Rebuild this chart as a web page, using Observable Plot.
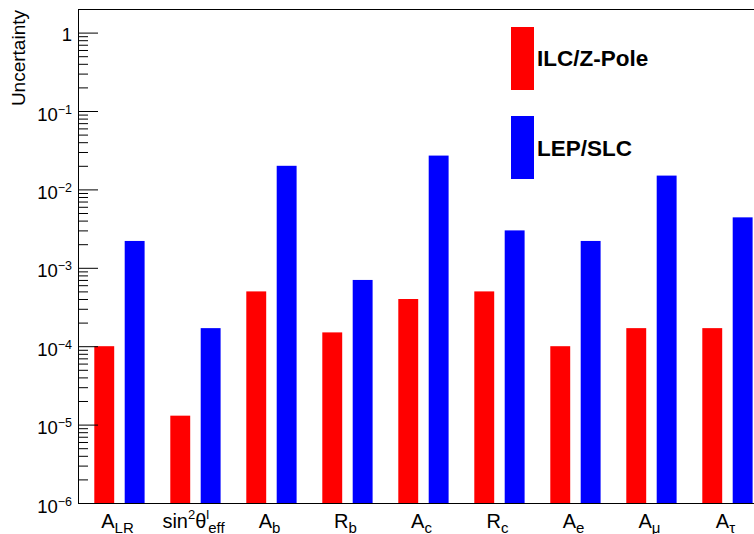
<!DOCTYPE html>
<html>
<head>
<meta charset="utf-8">
<script src="https://cdn.jsdelivr.net/npm/d3@7"></script>
<script src="https://cdn.jsdelivr.net/npm/@observablehq/plot@0.6"></script>
<style>
html, body { margin: 0; padding: 0; overflow: hidden; background: #fff; }
#wrap { position: relative; width: 754px; height: 534px; overflow: hidden; }
#overlay { position: absolute; left: 0; top: 0; pointer-events: none; }
</style>
</head>
<body>
<div id="wrap"></div>
<script>
// ---- data ----
const categories = ["A_LR", "sin2_theta_eff", "A_b", "R_b", "A_c", "R_c", "A_e", "A_mu", "A_tau"];
// tick label pieces: [text, "sup"|"sub"|undefined, dx]
const labelParts = [
  [["A"], ["LR", "sub"]],
  [["sin"], ["2", "sup"], ["θ"], ["l", "sup"], ["eff", "sub", -1]],
  [["A"], ["b", "sub"]],
  [["R"], ["b", "sub"]],
  [["A"], ["c", "sub"]],
  [["R"], ["c", "sub"]],
  [["A"], ["e", "sub"]],
  [["A"], ["μ", "sub"]],
  [["A"], ["τ", "sub"]]
];
const seriesNames = ["ILC/Z-Pole", "LEP/SLC"];
const seriesColors = ["#ff0000", "#0000ff"];
const ilcValues = [1.0e-4, 1.3e-5, 5.0e-4, 1.5e-4, 4.0e-4, 5.0e-4, 1.0e-4, 1.7e-4, 1.7e-4];
const lepValues = [2.2e-3, 1.7e-4, 2.0e-2, 7.0e-4, 2.7e-2, 3.0e-3, 2.2e-3, 1.5e-2, 4.4e-3];
const yMajorTicks = [1e-6, 1e-5, 1e-4, 1e-3, 1e-2, 1e-1, 1];
const yDomain = [1e-6, 2];
const yTitle = "Uncertainty";

// minor log ticks (2..9 x 10^k)
const yMinorTicks = [];
for (let k = -6; k <= 0; k++) for (let m = 2; m <= 9; m++) {
  const v = m * Math.pow(10, k);
  if (v <= yDomain[1] * 1.0001) yMinorTicks.push(v);
}

const ilcData = categories.map((c, i) => ({category: c, value: ilcValues[i]}));
const lepData = categories.map((c, i) => ({category: c, value: lepValues[i]}));

const FONT = "'Liberation Sans', Arial, Helvetica, sans-serif";

const chart = Plot.plot({
  width: 783,
  height: 534,
  marginLeft: 78,
  marginRight: 20,
  marginTop: 9,
  marginBottom: 31,
  style: {fontFamily: FONT, background: "white", color: "black"},
  x: {type: "band", domain: categories, padding: 0, label: null},
  y: {type: "log", domain: yDomain, label: null},
  marks: [
    Plot.barY(ilcData, {x: "category", y1: yDomain[0], y2: "value", fill: seriesColors[0], insetLeft: 15.3, insetRight: 40.8}),
    Plot.barY(lepData, {x: "category", y1: yDomain[0], y2: "value", fill: seriesColors[1], insetLeft: 45.7, insetRight: 10.4}),
    Plot.frame({stroke: "black"}),
    Plot.axisY({ticks: yMinorTicks, tickSize: 10, dx: 10, fill: "none", stroke: "black", label: null}),
    Plot.axisY({ticks: yMajorTicks, tickSize: 20, dx: 20, fill: "none", stroke: "black", label: null}),
    Plot.axisY({ticks: yMajorTicks, tickSize: 0, tickPadding: 6.5, fontSize: 18.5, fill: "black",
      tickFormat: d => String(Math.round(Math.log10(d))), label: null}),
    Plot.axisX({tickSize: 0, tickPadding: 0, fontSize: 20, fill: "black", tickFormat: d => d, label: null})
  ]
});
chart.style.maxWidth = "none";

const NS = "http://www.w3.org/2000/svg";
function fillParts(el, parts, opt) {
  el.textContent = "";
  let shift = 0;
  for (const [txt, kind, dx] of parts) {
    const ts = document.createElementNS(NS, "tspan");
    const target = kind === "sup" ? opt.supShift : kind === "sub" ? opt.subShift : 0;
    ts.setAttribute("dy", target - shift);
    shift = target;
    if (dx) ts.setAttribute("dx", dx);
    if (kind === "sup") ts.setAttribute("font-size", opt.supSize);
    if (kind === "sub") ts.setAttribute("font-size", opt.subSize);
    ts.textContent = txt;
    el.appendChild(ts);
  }
}

// y tick labels with superscripts
chart.querySelectorAll('g[aria-label="y-axis tick label"] text').forEach(t => {
  const e = parseInt(t.textContent, 10);
  if (e === 0) {
    t.setAttribute("y", 7.5);
    fillParts(t, [["1"]], {});
  } else {
    t.setAttribute("y", 9);
    fillParts(t, [["10"], ["−" + Math.abs(e), "sup"]], {supShift: -7, supSize: 12.5});
  }
});
// x tick labels with sub/superscripts
chart.querySelectorAll('g[aria-label="x-axis tick label"] text').forEach(t => {
  const i = categories.indexOf(t.textContent);
  if (i < 0) return;
  t.setAttribute("y", 24);
  fillParts(t, labelParts[i], {supShift: -8.5, supSize: 13, subShift: 5, subSize: 15});
});

const wrap = document.getElementById("wrap");
wrap.appendChild(chart);

// overlay: axis title + legend
const ov = document.createElementNS(NS, "svg");
ov.setAttribute("id", "overlay");
ov.setAttribute("width", 754);
ov.setAttribute("height", 534);
ov.setAttribute("font-family", FONT);
const title = document.createElementNS(NS, "text");
title.setAttribute("transform", "translate(25,10) rotate(-90)");
title.setAttribute("text-anchor", "end");
title.setAttribute("font-size", 19);
title.textContent = yTitle;
ov.appendChild(title);
const legendY = [27, 116];
const textY = [66, 156];
seriesNames.forEach((name, i) => {
  const r = document.createElementNS(NS, "rect");
  r.setAttribute("x", 511); r.setAttribute("y", legendY[i]);
  r.setAttribute("width", 23); r.setAttribute("height", 63);
  r.setAttribute("fill", seriesColors[i]);
  ov.appendChild(r);
  const tx = document.createElementNS(NS, "text");
  tx.setAttribute("x", 537); tx.setAttribute("y", textY[i]);
  tx.setAttribute("font-size", 22.5);
  tx.setAttribute("font-weight", "bold");
  tx.textContent = name;
  ov.appendChild(tx);
});
wrap.appendChild(ov);
</script>
</body>
</html>
